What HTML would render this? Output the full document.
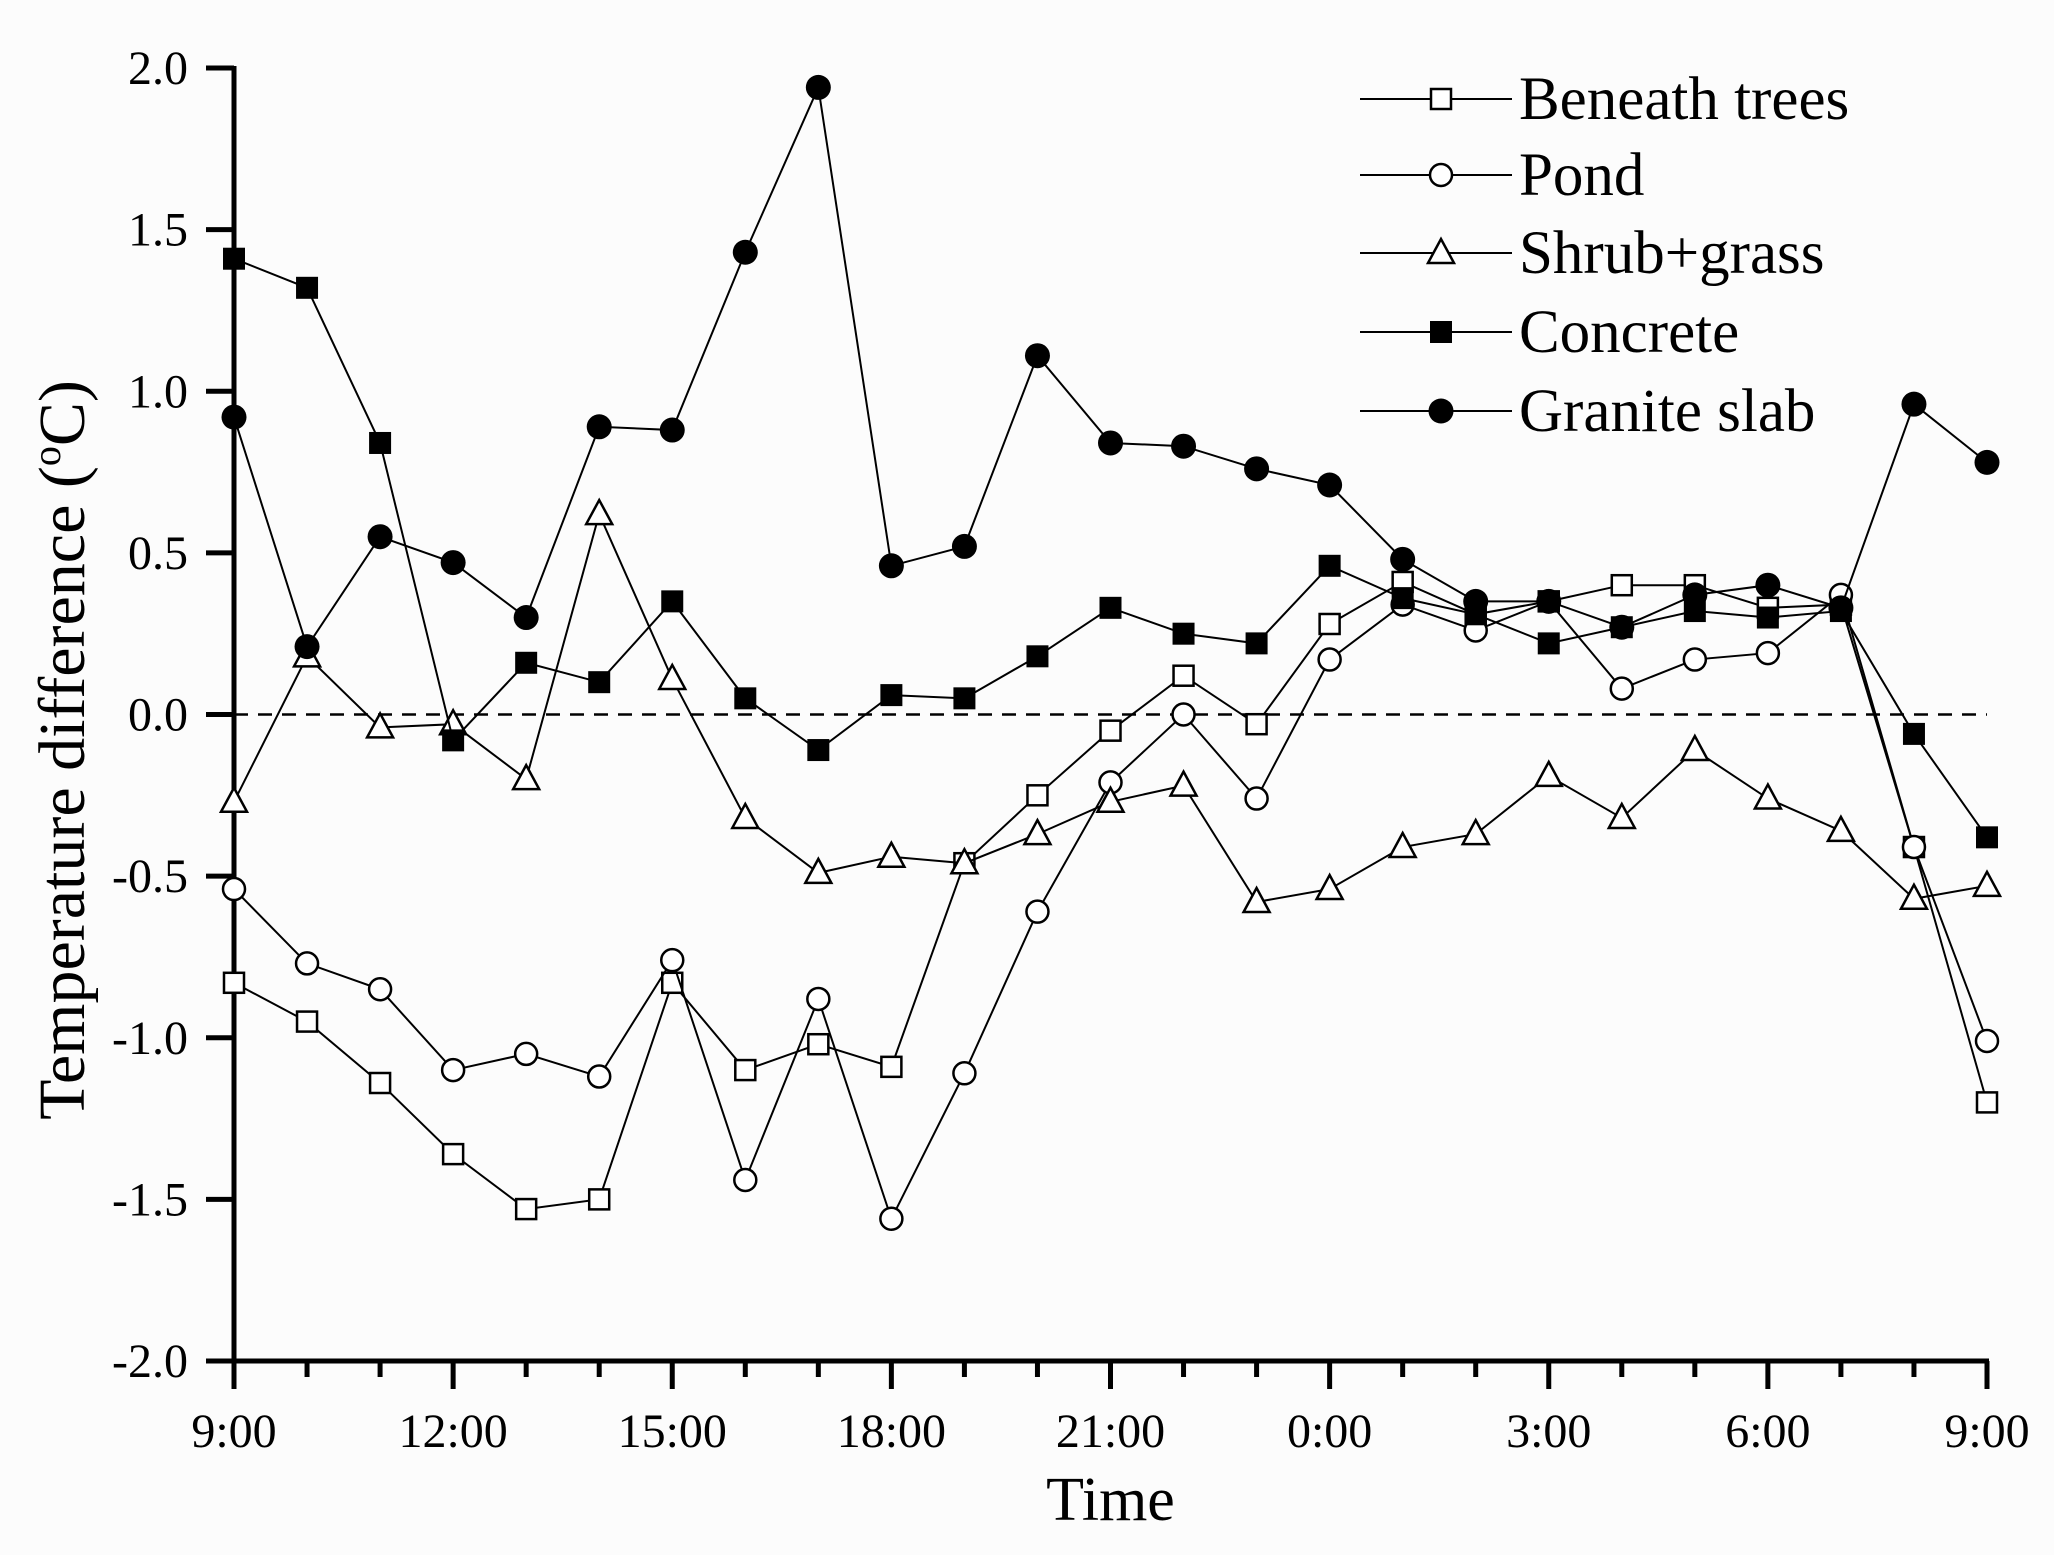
<!DOCTYPE html>
<html><head><meta charset="utf-8"><style>
body{margin:0;background:#fcfcfc}
svg{display:block;font-family:"Liberation Serif",serif}
</style></head><body>
<svg id="chart" width="2054" height="1555">
<rect width="2054" height="1555" fill="#fcfcfc"/>
</svg>
<script>
const hours=[0,1,2,3,4,5,6,7,8,9,10,11,12,13,14,15,16,17,18,19,20,21,22,23,24];
const xTickLabels=["9:00","12:00","15:00","18:00","21:00","0:00","3:00","6:00","9:00"];
const yTicks=[-2.0,-1.5,-1.0,-0.5,0.0,0.5,1.0,1.5,2.0];
const beneathTrees=[-0.83,-0.95,-1.14,-1.36,-1.53,-1.50,-0.83,-1.10,-1.02,-1.09,-0.46,-0.25,-0.05,0.12,-0.03,0.28,0.41,0.31,0.35,0.40,0.40,0.33,0.34,-0.41,-1.20];
const pond=[-0.54,-0.77,-0.85,-1.10,-1.05,-1.12,-0.76,-1.44,-0.88,-1.56,-1.11,-0.61,-0.21,0.00,-0.26,0.17,0.34,0.26,0.35,0.08,0.17,0.19,0.37,-0.41,-1.01];
const shrubGrass=[-0.27,0.18,-0.04,-0.03,-0.20,0.62,0.11,-0.32,-0.49,-0.44,-0.46,-0.37,-0.27,-0.22,-0.58,-0.54,-0.41,-0.37,-0.19,-0.32,-0.11,-0.26,-0.36,-0.57,-0.53];
const concrete=[1.41,1.32,0.84,-0.08,0.16,0.10,0.35,0.05,-0.11,0.06,0.05,0.18,0.33,0.25,0.22,0.46,0.36,0.31,0.22,0.27,0.32,0.30,0.32,-0.06,-0.38];
const granite=[0.92,0.21,0.55,0.47,0.30,0.89,0.88,1.43,1.94,0.46,0.52,1.11,0.84,0.83,0.76,0.71,0.48,0.35,0.35,0.27,0.37,0.40,0.33,0.96,0.78];

const NS="http://www.w3.org/2000/svg";
const svg=document.getElementById('chart');
const X0=234,X1=1987,Y0=1361,Y1=68;
const sx=h=>X0+(X1-X0)*h/24;
const sy=v=>Y0+(Y1-Y0)*(v+2)/4;
function mk(tag,attrs,parent){const e=document.createElementNS(NS,tag);for(const k in attrs)e.setAttribute(k,attrs[k]);(parent||svg).appendChild(e);return e;}

let z=mk('line',{x1:X0,x2:X1,y1:sy(0),y2:sy(0),stroke:'#000','stroke-width':2.5,'stroke-dasharray':'14 10'});



let ax=mk('g',{});


mk('line',{x1:X0,x2:X0,y1:Y1-2,y2:Y0+2,stroke:'#000','stroke-width':5},ax);
mk('line',{x1:X0-2,x2:X1+2,y1:Y0,y2:Y0,stroke:'#000','stroke-width':5},ax);
yTicks.forEach((v,i)=>{
  mk('line',{x1:X0-28,x2:X0,y1:sy(v),y2:sy(v),stroke:'#000','stroke-width':5},ax);
  let t=mk('text',{x:188,y:sy(v)+16,'text-anchor':'end','font-size':48},ax);
  t.textContent=v.toFixed(1);
  
  
});
for(let h=0;h<=24;h++){
  const major=h%3===0;
  mk('line',{x1:sx(h),x2:sx(h),y1:Y0,y2:Y0+(major?28:16),stroke:'#000','stroke-width':5},ax);
}
xTickLabels.forEach((l,i)=>{
  let t=mk('text',{x:sx(i*3),y:1447,'text-anchor':'middle','font-size':48},ax);
  t.textContent=l;
  
  
});
let xt=mk('text',{x:(X0+X1)/2,y:1520,'text-anchor':'middle','font-size':62});
xt.textContent='Time';


let yt=mk('text',{x:0,y:0,'text-anchor':'middle','font-size':66,transform:'translate(84,750) rotate(-90)'});
yt.innerHTML='Temperature difference (<tspan font-size="40" dy="-24">o</tspan><tspan dy="24">C)</tspan>';



function marker(g,type,x,y){
  const s=11;
  if(type==='sq-open') mk('rect',{x:x-s+1,y:y-s+1,width:2*s-2,height:2*s-2,fill:'#fff',stroke:'#000','stroke-width':2.5},g);
  else if(type==='sq-fill') mk('rect',{x:x-s,y:y-s,width:2*s,height:2*s,fill:'#000'},g);
  else if(type==='circ-open') mk('circle',{cx:x,cy:y,r:11,fill:'#fff',stroke:'#000','stroke-width':2.5},g);
  else if(type==='circ-fill') mk('circle',{cx:x,cy:y,r:12.5,fill:'#000'},g);
  else if(type==='tri') mk('polygon',{points:`${x},${y-14} ${x-13},${y+10} ${x+13},${y+10}`,fill:'#fff',stroke:'#000','stroke-width':2.5},g);
}
const series=[
  {name:'Beneath trees',data:beneathTrees,m:'sq-open',id:'series-beneath-trees'},
  {name:'Pond',data:pond,m:'circ-open',id:'series-pond'},
  {name:'Shrub+grass',data:shrubGrass,m:'tri',id:'series-shrub-grass'},
  {name:'Concrete',data:concrete,m:'sq-fill',id:'series-concrete'},
  {name:'Granite slab',data:granite,m:'circ-fill',id:'series-granite-slab'}
];
series.forEach(s=>{
  let g=mk('g',{});
  
  
  mk('polyline',{points:s.data.map((v,i)=>sx(hours[i])+','+sy(v)).join(' '),fill:'none',stroke:'#000','stroke-width':2},g);
  s.data.forEach((v,i)=>marker(g,s.m,sx(hours[i]),sy(v)));
});
let lg=mk('g',{});


const rowY=[99,175,253,332,411];
series.forEach((s,i)=>{
  let e=mk('g',{},lg);
  
  
  mk('line',{x1:1360,x2:1512,y1:rowY[i],y2:rowY[i],stroke:'#000','stroke-width':2},e);
  marker(e,s.m,1441,rowY[i]);
  let t=mk('text',{x:1519,y:rowY[i]+20,'font-size':61},e);
  t.textContent=s.name;
});
</script>
</body></html>
